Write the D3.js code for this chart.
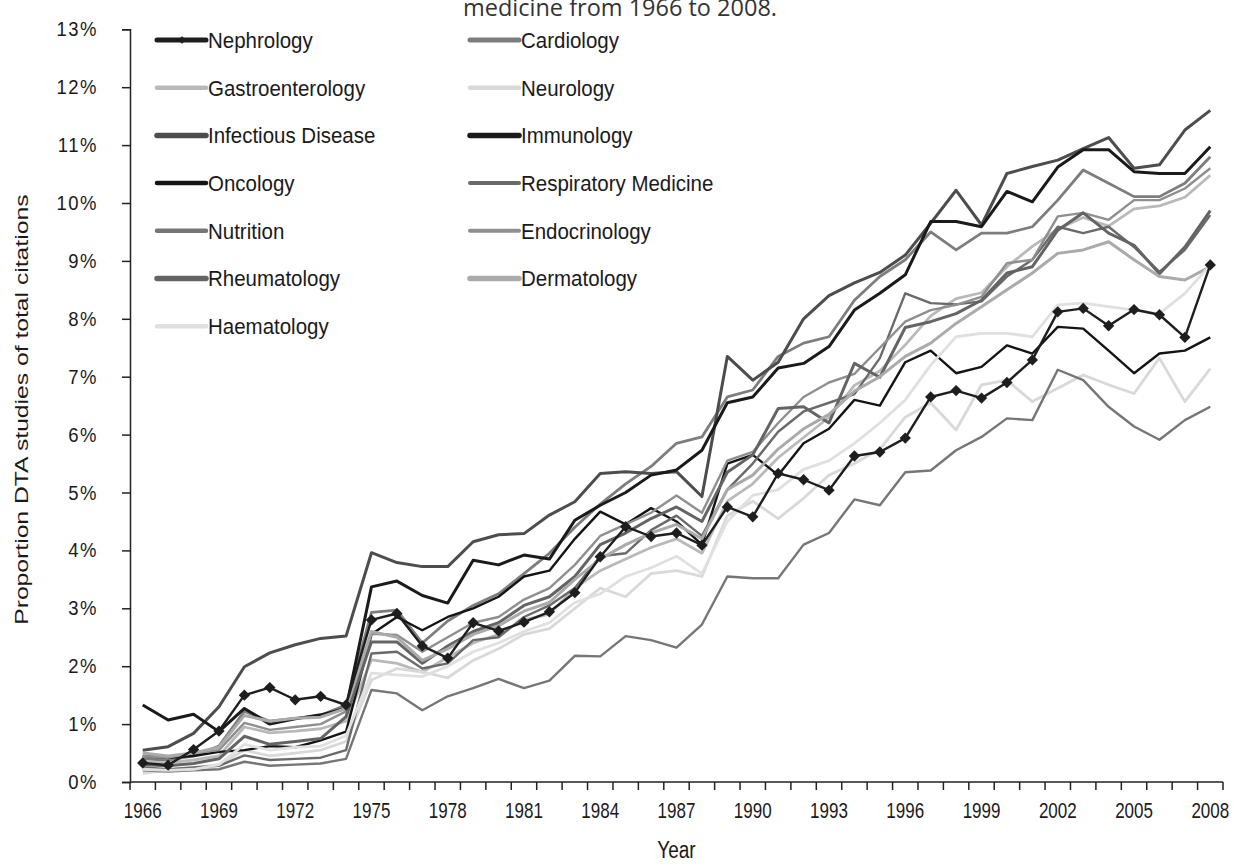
<!DOCTYPE html>
<html lang="en">
<head>
<meta charset="utf-8">
<title>DTA studies by specialty</title>
<script src="https://cdn.jsdelivr.net/npm/d3@7"></script>
<style>
  body { margin: 0; background: #fff; }
  text { font-family: "Liberation Sans", Arial, sans-serif; fill: #1a1a1a; }
</style>
</head>
<body>
<script>
// Years on the x axis
var years = d3.range(1966, 2009);
var yearLabels = d3.range(1966, 2009, 3);
var yTicks = d3.range(0, 14);

// Percent of total citations, one array per specialty (1966..2008)
var nephrology = [0.33,0.29,0.56,0.88,1.50,1.63,1.42,1.48,1.33,2.80,2.91,2.35,2.14,2.75,2.61,2.76,2.94,3.27,3.89,4.41,4.24,4.30,4.09,4.75,4.58,5.33,5.22,5.04,5.63,5.70,5.94,6.65,6.76,6.63,6.90,7.29,8.12,8.18,7.88,8.16,8.07,7.68,8.93];
var cardiology = [0.40,0.38,0.45,0.62,1.22,1.05,1.10,1.15,1.33,2.93,2.97,2.40,2.78,3.05,3.25,3.60,3.95,4.40,4.80,5.15,5.45,5.85,5.96,6.65,6.77,7.35,7.58,7.69,8.32,8.73,9.02,9.50,9.19,9.48,9.48,9.59,10.05,10.57,10.34,10.11,10.11,10.34,10.80];
var gastroenterology = [0.35,0.33,0.38,0.45,0.95,0.85,0.88,0.92,1.05,2.11,2.05,1.90,2.15,2.40,2.55,2.80,2.90,3.35,3.65,3.85,4.05,4.20,3.95,4.85,5.15,5.60,5.95,6.30,6.85,7.10,7.55,8.05,8.35,8.45,8.90,9.25,9.55,9.75,9.60,9.90,9.95,10.10,10.48];
var neurology = [0.15,0.20,0.25,0.30,0.55,0.45,0.50,0.55,0.70,1.76,1.96,1.90,1.80,2.10,2.30,2.55,2.65,3.00,3.35,3.20,3.60,3.65,3.55,4.60,4.85,4.55,4.90,5.30,5.50,5.75,6.30,6.55,6.08,6.86,6.94,6.57,6.80,7.03,6.86,6.71,7.32,6.57,7.14];
var infectiousDisease = [0.55,0.61,0.84,1.30,1.99,2.23,2.37,2.48,2.52,3.96,3.79,3.72,3.72,4.15,4.27,4.29,4.61,4.84,5.33,5.36,5.33,5.36,4.93,7.35,6.94,7.25,8.00,8.40,8.62,8.80,9.10,9.65,10.22,9.62,10.51,10.63,10.74,10.94,11.13,10.60,10.66,11.26,11.60];
var immunology = [1.33,1.07,1.17,0.87,1.27,1.00,1.09,1.16,1.27,3.37,3.47,3.22,3.09,3.83,3.75,3.92,3.85,4.52,4.78,5.00,5.30,5.39,5.73,6.55,6.65,7.15,7.23,7.52,8.15,8.44,8.76,9.68,9.68,9.59,10.20,10.02,10.62,10.92,10.92,10.54,10.51,10.51,10.97];
var oncology = [0.45,0.42,0.45,0.52,0.55,0.62,0.60,0.72,0.87,2.55,2.85,2.62,2.85,3.00,3.20,3.55,3.65,4.20,4.67,4.45,4.73,4.50,4.10,5.50,5.65,5.30,5.85,6.10,6.60,6.50,7.25,7.45,7.06,7.17,7.54,7.40,7.86,7.83,7.45,7.06,7.40,7.45,7.68];
var respiratory = [0.25,0.22,0.25,0.28,0.46,0.38,0.40,0.42,0.55,2.22,2.25,1.96,2.05,2.45,2.50,2.85,3.05,3.35,3.90,3.95,4.35,4.60,4.25,5.05,5.50,6.05,6.40,6.55,6.70,7.32,8.44,8.27,8.25,8.30,8.73,9.02,9.59,9.48,9.59,9.24,8.81,9.19,9.79];
var nutrition = [0.20,0.18,0.20,0.22,0.35,0.28,0.30,0.32,0.40,1.59,1.53,1.24,1.48,1.62,1.78,1.62,1.75,2.18,2.17,2.52,2.45,2.32,2.72,3.55,3.52,3.52,4.10,4.30,4.88,4.78,5.35,5.38,5.73,5.96,6.28,6.25,7.12,6.94,6.48,6.14,5.91,6.25,6.48];
var endocrinology = [0.45,0.42,0.50,0.55,1.02,0.90,0.95,1.00,1.22,2.56,2.54,2.25,2.50,2.75,2.85,3.15,3.35,3.75,4.25,4.45,4.65,4.95,4.65,5.55,5.70,6.20,6.65,6.90,7.05,7.50,7.95,8.15,8.24,8.38,8.96,9.02,9.77,9.83,9.71,10.05,10.05,10.25,10.60];
var rheumatology = [0.30,0.28,0.32,0.40,0.79,0.65,0.70,0.75,1.13,2.42,2.42,2.05,2.35,2.60,2.75,3.05,3.20,3.55,4.10,4.30,4.55,4.75,4.50,5.35,5.65,6.45,6.48,6.20,7.23,6.99,7.85,7.95,8.09,8.32,8.79,8.90,9.53,9.83,9.48,9.27,8.78,9.24,9.87];
var dermatology = [0.50,0.45,0.50,0.60,1.15,1.05,1.10,1.12,1.27,2.60,2.50,2.10,2.30,2.55,2.70,2.95,3.10,3.50,3.85,4.10,4.30,4.45,4.20,5.05,5.30,5.75,6.10,6.35,6.75,7.00,7.35,7.58,7.92,8.21,8.50,8.79,9.13,9.19,9.33,9.02,8.73,8.67,8.90];
var haematology = [0.22,0.20,0.22,0.30,0.65,0.55,0.60,0.62,0.80,1.88,1.85,1.82,2.00,2.25,2.40,2.60,2.75,3.10,3.25,3.55,3.70,3.90,3.60,4.50,4.95,5.05,5.40,5.55,5.85,6.20,6.60,7.20,7.69,7.75,7.75,7.69,8.24,8.27,8.21,8.15,8.09,8.44,8.93];

var seriesNames = ["Nephrology","Cardiology","Gastroenterology","Neurology","Infectious Disease","Immunology","Oncology","Respiratory Medicine","Nutrition","Endocrinology","Rheumatology","Dermatology","Haematology"];
var seriesValues = [nephrology,cardiology,gastroenterology,neurology,infectiousDisease,immunology,oncology,respiratory,nutrition,endocrinology,rheumatology,dermatology,haematology];
var seriesColors = ["#1e1e1e","#7d7d7d","#b9b9b9","#d9d9d9","#4d4d4d","#1a1a1a","#141414","#6a6a6a","#767676","#8f8f8f","#646464","#aaaaaa","#e0e0e0"];
var seriesWidths = [2.4,2.8,2.8,2.8,3,3,2.4,2.4,2.4,2.4,3,3,2.8];
var legendWidths = [5,5,4.5,4.5,5.5,5.5,4.5,4,4.5,4,5.5,5.5,4.5];

var w = 1243, h = 867;
// plot edges (named so they don't clash with window.top)
var plotLeft = 130, plotRight = 1223, plotTop = 29.3, plotBottom = 782;
// the original picture is a little stretched vertically
var stretch = 1.25;

var svg = d3.select("body").append("svg")
            .attr("width", w)
            .attr("height", h);

var xScale = d3.scaleBand()
               .domain(years)
               .range([plotLeft, plotRight]);

var yScale = d3.scaleLinear()
               .domain([0, 13])
               .range([plotBottom, plotTop]);

// title fragment, cut at the top
svg.append("text")
   .attr("x", 620)
   .attr("y", 16)
   .attr("text-anchor", "middle")
   .style("font-family", "'Open Sans', 'DejaVu Sans', sans-serif")
   .style("font-size", "23.5px")
   .style("fill", "#333")
   .text("medicine from 1966 to 2008.");

// y axis
var yAxis = d3.axisLeft(yScale)
              .tickValues(yTicks)
              .tickSize(8)
              .tickFormat(function(d) { return d + "%"; });

var gy = svg.append("g")
            .attr("transform", "translate(" + plotLeft + ",0)")
            .call(yAxis);
gy.select(".domain").attr("stroke", "#222").attr("stroke-width", 1.5);
gy.selectAll(".tick line").attr("stroke", "#222").attr("stroke-width", 1.5);
gy.selectAll(".tick text")
  .attr("x", -32)
  .attr("transform", "scale(1,1.1)")
  .style("font-size", "18.5px")
  .style("letter-spacing", "1.5px")
  .style("font-family", "'Liberation Sans', Arial, sans-serif")
  .style("fill", "#1a1a1a");

// x axis: labels every 3 years
var xAxis = d3.axisBottom(xScale)
              .tickSize(0)
              .tickValues(yearLabels)
              .tickFormat(function(d) { return d; });

var gx = svg.append("g")
            .attr("transform", "translate(0," + plotBottom + ")")
            .call(xAxis);
gx.select(".domain").remove();
gx.selectAll(".tick text")
  .attr("y", 0)
  .attr("dy", 0)
  .attr("transform", "translate(0,36) scale(1," + stretch + ")")
  .style("font-size", "17px")
  .style("font-family", "'Liberation Sans', Arial, sans-serif")
  .style("fill", "#1a1a1a");

svg.append("line")
   .attr("x1", plotLeft).attr("x2", plotRight)
   .attr("y1", plotBottom).attr("y2", plotBottom)
   .attr("stroke", "#222").attr("stroke-width", 1.5);

// tick marks between the categories
var boundaries = years.map(function(d) { return xScale(d); }).concat([plotRight]);
svg.selectAll("line.xtick")
   .data(boundaries)
   .enter()
   .append("line")
   .attr("class", "xtick")
   .attr("x1", function(d) { return d; })
   .attr("x2", function(d) { return d; })
   .attr("y1", plotBottom)
   .attr("y2", plotBottom + 8)
   .attr("stroke", "#222")
   .attr("stroke-width", 1.5);

// axis titles
svg.append("text")
   .attr("transform", "translate(" + ((plotLeft + plotRight) / 2) + ",858) scale(1," + stretch + ")")
   .attr("text-anchor", "middle")
   .style("font-size", "19px")
   .text("Year");

svg.append("text")
   .attr("transform", "translate(28," + ((plotTop + plotBottom) / 2 + 4) + ") rotate(-90) scale(1.3,1)")
   .attr("text-anchor", "middle")
   .style("font-size", "19px")
   .text("Proportion DTA studies of total citations");

// lines
var line = d3.line()
             .x(function(d, i) { return xScale(years[i]) + xScale.bandwidth() / 2; })
             .y(function(d) { return yScale(d); });

var order = d3.range(1, seriesNames.length).concat([0]);

svg.selectAll("path.series")
   .data(order)
   .enter()
   .append("path")
   .attr("class", "series")
   .attr("fill", "none")
   .attr("stroke", function(k) { return seriesColors[k]; })
   .attr("stroke-width", function(k) { return seriesWidths[k]; })
   .attr("stroke-linejoin", "round")
   .attr("d", function(k) { return line(seriesValues[k]); });

// nephrology diamonds (squares turned 45 degrees)
var diamond = d3.symbol().type(d3.symbolSquare).size(64);
svg.selectAll("path.marker")
   .data(nephrology)
   .enter()
   .append("path")
   .attr("class", "marker")
   .attr("d", diamond)
   .attr("fill", "#1e1e1e")
   .attr("transform", function(d, i) {
     return "translate(" + (xScale(years[i]) + xScale.bandwidth() / 2) + "," + yScale(d) + ") rotate(45)";
   });

// legend, two columns
var legendCols = [157, 470];
var rowGap = 47.7;
var legend = svg.selectAll("g.legend")
                .data(seriesNames)
                .enter()
                .append("g")
                .attr("class", "legend")
                .attr("transform", function(d, i) {
                  return "translate(" + legendCols[i % 2] + "," + (40 + Math.floor(i / 2) * rowGap) + ")";
                });

legend.append("line")
      .attr("x1", 0).attr("x2", 49)
      .attr("y1", 0).attr("y2", 0)
      .attr("stroke", function(d, i) { return seriesColors[i]; })
      .attr("stroke-width", function(d, i) { return legendWidths[i]; })
      .attr("stroke-linecap", "round");

legend.filter(function(d, i) { return i === 0; })
      .append("path")
      .attr("d", d3.symbol().type(d3.symbolSquare).size(30))
      .attr("transform", "translate(25,0) rotate(45)")
      .attr("fill", "#1e1e1e");

legend.append("text")
      .attr("x", 51)
      .attr("y", 0)
      .attr("dy", "0.35em")
      .attr("transform", "scale(1,1.1)")
      .style("font-size", "20.5px")
      .text(function(d) { return d; });
</script>
</body>
</html>
